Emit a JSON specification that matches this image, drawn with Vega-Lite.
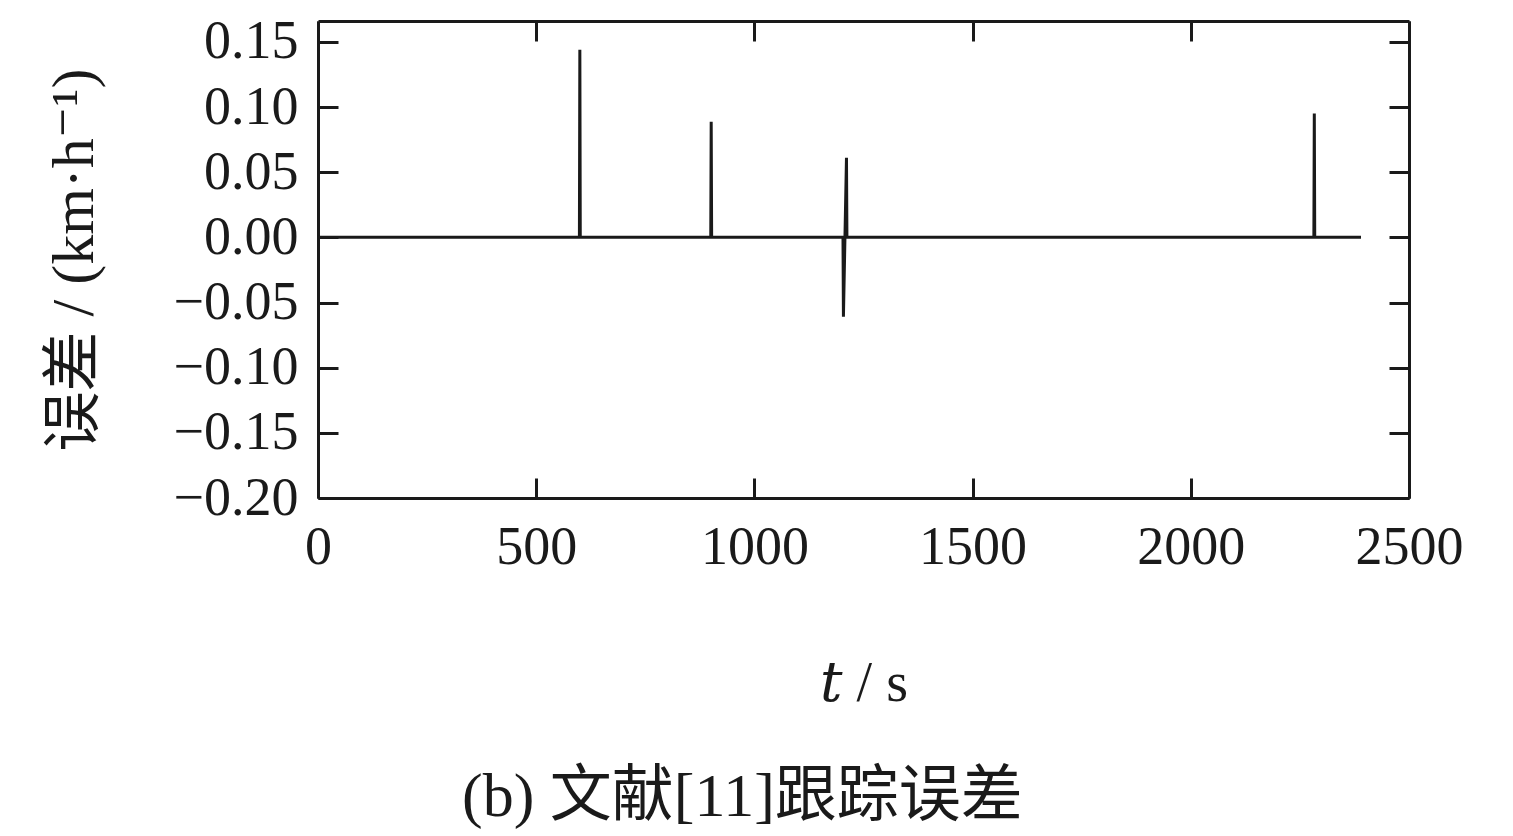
{
  "$schema": "https://vega.github.io/schema/vega-lite/v6.json",
  "autosize": {"type": "none"},
  "padding": {"left": 318, "top": 21, "right": 104, "bottom": 338},
  "width": 1091,
  "height": 477,
  "background": "white",
  "title": {
    "text": "(b) 文献[11]跟踪误差",
    "orient": "bottom",
    "anchor": "start",
    "frame": "group",
    "dx": 144,
    "font": "Liberation Serif, Noto Sans CJK SC",
    "fontSize": 62,
    "fontWeight": "normal",
    "color": "#1a1a1a",
    "offset": 56
  },
  "data": {
    "values": [
      {"t": 0, "err": 0},
      {"t": 599, "err": 0},
      {"t": 600, "err": 0.144},
      {"t": 601, "err": 0},
      {"t": 900, "err": 0},
      {"t": 901, "err": 0.0886},
      {"t": 902, "err": 0},
      {"t": 1203, "err": 0},
      {"t": 1204, "err": -0.061},
      {"t": 1211, "err": 0.061},
      {"t": 1212, "err": 0},
      {"t": 2282, "err": 0},
      {"t": 2283, "err": 0.095},
      {"t": 2284, "err": 0},
      {"t": 2390, "err": 0}
    ]
  },
  "layer": [
    {
      "mark": {"type": "line", "color": "#1a1a1a", "strokeWidth": 3, "interpolate": "linear"},
      "encoding": {
        "x": {
          "field": "t", "type": "quantitative",
          "scale": {"domain": [0, 2500], "nice": false, "zero": false},
          "axis": {
            "orient": "bottom",
            "values": [0, 500, 1000, 1500, 2000, 2500],
            "format": "d",
            "title": "𝑡 / s",
            "titleFontSize": 56,
            "titlePadding": 82,
            "labelPadding": 42
          }
        },
        "y": {
          "field": "err", "type": "quantitative",
          "scale": {"domain": [-0.2, 0.166], "nice": false, "zero": false},
          "axis": {
            "orient": "left",
            "values": [-0.2, -0.15, -0.1, -0.05, 0, 0.05, 0.1, 0.15],
            "format": ".2f",
            "title": "误差 / (km·h⁻¹)",
            "titleFontSize": 60,
            "titlePadding": 68,
            "labelPadding": 40
          }
        }
      }
    },
    {
      "mark": {"type": "line", "opacity": 0},
      "encoding": {
        "x": {
          "field": "t", "type": "quantitative",
          "axis": {"orient": "top", "values": [0, 500, 1000, 1500, 2000, 2500], "labels": false, "title": null}
        },
        "y": {
          "field": "err", "type": "quantitative",
          "axis": {"orient": "right", "values": [-0.2, -0.15, -0.1, -0.05, 0, 0.05, 0.1, 0.15], "labels": false, "title": null}
        }
      }
    }
  ],
  "resolve": {"axis": {"x": "independent", "y": "independent"}},
  "config": {
    "view": {"stroke": null},
    "axis": {
      "grid": false,
      "domainColor": "#1a1a1a",
      "domainWidth": 3,
      "tickColor": "#1a1a1a",
      "tickWidth": 3,
      "tickSize": -20,
      "labelFont": "Liberation Serif",
      "labelFontSize": 54,
      "labelColor": "#1a1a1a",
      "labelFlush": false,
      "labelOverlap": false,
      "titleFont": "Liberation Serif, DejaVu Serif, Noto Sans CJK SC",
      "titleFontSize": 52,
      "titleFontWeight": "normal",
      "titleColor": "#1a1a1a"
    }
  }
}
